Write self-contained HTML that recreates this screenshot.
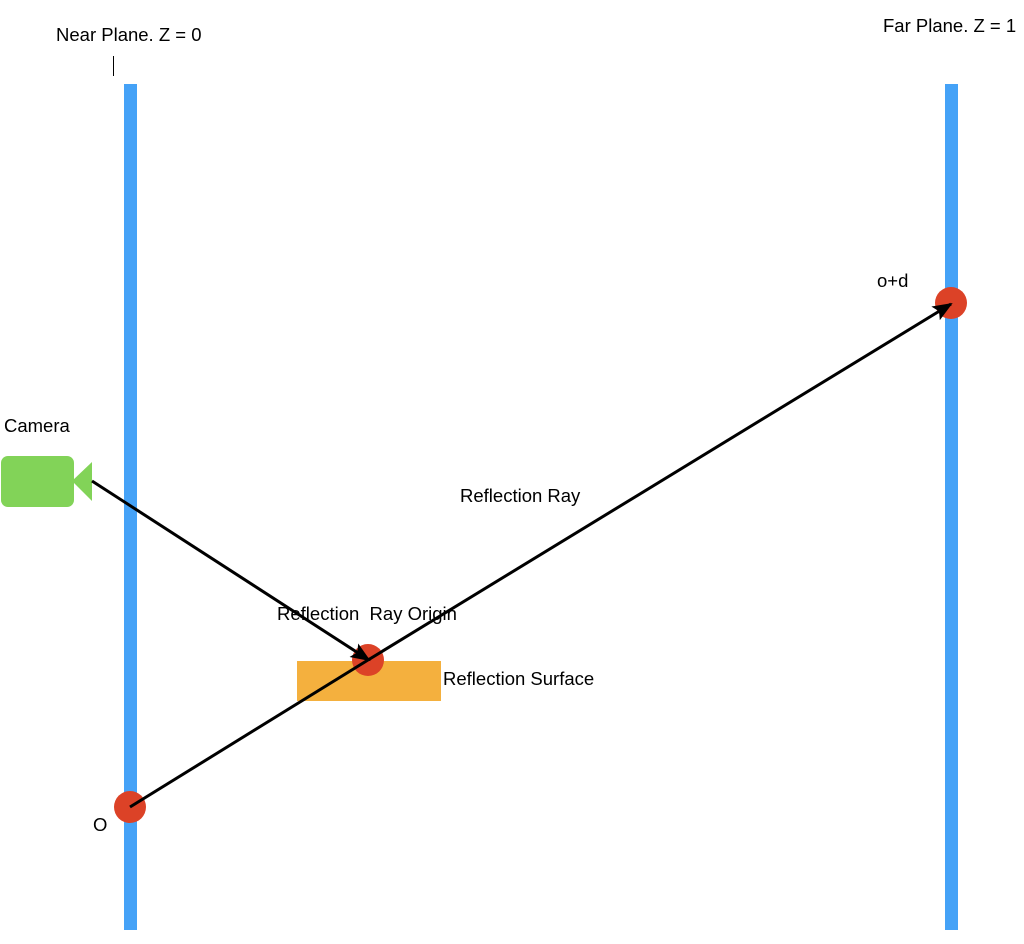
<!DOCTYPE html>
<html><head><meta charset="utf-8"><style>
html,body{margin:0;padding:0;background:#fff;}
svg{display:block}
text{font-family:"Liberation Sans",sans-serif;font-size:18.5px;fill:#000}
</style></head><body>
<svg width="1024" height="944" viewBox="0 0 1024 944" xmlns="http://www.w3.org/2000/svg">
<defs>
<marker id="ah2" markerWidth="20" markerHeight="16" refX="18" refY="8" orient="auto" markerUnits="userSpaceOnUse">
<path d="M0,0 L20,8 L0,16 L4,8 Z" fill="#000"/>
</marker>
</defs>
<rect x="124" y="84" width="13" height="846" fill="#45a2f7"/>
<rect x="945" y="84" width="13" height="846" fill="#45a2f7"/>
<line x1="113.5" y1="56" x2="113.5" y2="76" stroke="#000" stroke-width="1"/>
<text x="56" y="41">Near Plane. Z = 0</text>
<text x="883" y="32">Far Plane. Z = 1</text>
<text x="4" y="432">Camera</text>
<rect x="1" y="456" width="73" height="51" rx="7" fill="#82d358"/>
<path d="M72,481 L92,462 L92,501 Z" fill="#82d358"/>
<rect x="297" y="661" width="144" height="40" fill="#f4b03e"/>
<circle cx="368" cy="660" r="16" fill="#dc4227"/>
<circle cx="130" cy="807" r="16" fill="#dc4227"/>
<circle cx="951" cy="303" r="16" fill="#dc4227"/>
<line x1="130" y1="807" x2="368" y2="660" stroke="#000" stroke-width="3"/>
<line x1="92" y1="481" x2="369" y2="660" stroke="#000" stroke-width="3" marker-end="url(#ah2)"/>
<line x1="368" y1="660" x2="951" y2="304" stroke="#000" stroke-width="3" marker-end="url(#ah2)"/>
<text x="460" y="502">Reflection Ray</text>
<text x="277" y="620">Reflection&#160; Ray Origin</text>
<text x="443" y="685">Reflection Surface</text>
<text x="877" y="287">o+d</text>
<text x="93" y="831">O</text>
</svg>
</body></html>
